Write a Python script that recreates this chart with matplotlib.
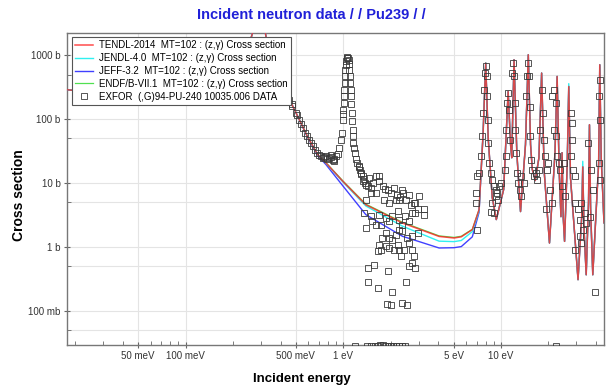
import matplotlib
matplotlib.use('Agg')
import matplotlib.pyplot as plt
from matplotlib.ticker import FixedLocator, LogLocator, FuncFormatter, NullFormatter

plt.rcParams['font.family'] = ['Liberation Sans', 'DejaVu Sans']

# evaluated (z,g) cross sections on a shared energy grid: energy in eV, sigma in barn
energy = [0.0177, 0.025, 0.04, 0.07, 0.1, 0.15, 0.2, 0.24, 0.27, 0.285, 0.296, 0.31, 0.33,
          0.37, 0.434, 0.502, 0.592, 0.688, 0.777, 1.0, 1.39, 2.37, 4.05, 5.04, 5.6, 6.58,
          7.26, 7.7, 8.0, 8.3, 8.8, 9.34, 10.4, 11.1, 11.5, 11.7, 12.1, 12.6, 13.3, 14.3,
          14.9, 15.4, 15.8, 16.5, 17.4, 18.1, 18.8, 20.3, 22.0, 22.7, 23.4, 24.0, 24.4, 24.8,
          25.3, 26.3, 26.9, 27.6, 30.8, 32.5, 33.0, 33.6, 34.7, 35.9, 36.4, 37.0, 38.2, 41.6,
          42.3, 43.2, 45.0]
tendl = [289, 268, 220, 180, 170, 200, 350, 900, 2600, 4500, 5200, 3500, 1500,
         600, 259, 125, 54, 28, 20.7, 10.5, 4.6, 2.39, 1.47, 1.39, 1.45, 1.88,
         3.85, 60, 755, 50, 6, 2.7, 8, 272, 40, 25, 851, 30, 3.6, 40,
         1018, 40, 16.3, 11, 25, 527, 15, 1.16, 30, 467, 15, 3, 30, 3,
         1.23, 20, 325, 12, 0.31, 3, 18, 2, 0.37, 5, 82, 4, 0.37, 20,
         710, 25, 2.4]
jendl = [289, 268, 220, 180, 170, 200, 350, 900, 2600, 4500, 5200, 3500, 1500,
         600, 259, 125, 54, 28, 20.5, 10.3, 4.4, 2.13, 1.24, 1.22, 1.27, 1.75,
         3.7, 60, 760, 50, 6, 2.7, 8, 272, 40, 25, 851, 30, 3.6, 40,
         1018, 40, 16.3, 11, 25, 527, 15, 1.16, 30, 467, 15, 3, 30, 3,
         1.23, 20, 360, 12, 0.31, 3, 22, 2, 0.37, 5, 82, 4, 0.37, 20,
         710, 25, 2.4]
jeff = [289, 268, 220, 180, 170, 200, 350, 900, 2600, 4500, 5200, 3500, 1500,
        600, 259, 125, 53, 27, 19.5, 8.9, 3.22, 1.48, 0.97, 0.98, 1.02, 1.45,
        3.5, 60, 755, 50, 6, 2.7, 8, 272, 40, 25, 851, 30, 3.6, 40,
        1018, 40, 16.3, 11, 25, 527, 15, 1.16, 30, 467, 15, 3, 30, 3,
        1.23, 20, 325, 12, 0.31, 3, 18, 2, 0.37, 5, 82, 4, 0.37, 20,
        710, 25, 2.4]
endf = [289, 268, 220, 180, 170, 200, 350, 900, 2600, 4500, 5200, 3500, 1500,
        600, 259, 125, 54, 28, 20.9, 10.7, 4.7, 2.45, 1.5, 1.42, 1.48, 1.9,
        3.85, 60, 755, 50, 6, 2.7, 8, 272, 40, 25, 851, 30, 3.6, 40,
        1018, 40, 16.3, 11, 25, 527, 15, 1.16, 30, 467, 15, 3, 30, 3,
        1.23, 20, 325, 12, 0.31, 3, 18, 2, 0.37, 5, 82, 4, 0.37, 20,
        710, 25, 2.4]

# EXFOR points, split by region
e_tail = [0.434, 0.455, 0.47, 0.476, 0.502, 0.51, 0.527, 0.54, 0.558, 0.575, 0.592, 0.61,
          0.627, 0.645, 0.665, 0.685, 0.705, 0.72, 0.74, 0.76, 0.777, 0.79, 0.815, 0.83,
          0.836, 0.856, 0.87, 0.877, 0.899, 0.92]
s_tail = [259, 202, 170, 163, 125, 115, 98, 85, 73.6, 62, 53.9, 48,
          43, 38, 33.4, 30, 27.9, 26.5, 24.8, 25.5, 26.2, 23.8, 24.8, 25.5,
          27.9, 23.3, 24, 21.9, 26.2, 28.5]

e_peak = [0.944, 0.967, 0.981, 0.99, 0.995, 1.0, 1.005, 1.01, 1.015, 1.019, 1.025, 1.03,
          1.035, 1.04, 1.05, 1.06, 1.07, 1.08, 1.085, 1.09, 1.1, 1.107, 1.113, 1.119,
          1.127, 1.135, 1.14, 1.145, 1.152, 1.16, 1.17, 1.19, 1.21, 1.23, 1.25, 1.276,
          1.3, 1.325, 1.35, 1.377, 1.425]
s_peak = [35.5, 47.8, 60.9, 98.2, 120, 141, 180, 227, 290, 368, 480, 593,
          700, 800, 950, 904, 900, 851, 720, 593, 470, 368, 290, 227,
          170, 125, 95, 68.5, 55, 42.5, 36, 29.6, 24, 20.7, 18.5, 16.3,
          14, 12.8, 11.5, 10.1, 8.9]

e_cloud = [1.25, 1.3, 1.33, 1.4, 1.46, 1.5, 1.55, 1.61, 1.69, 1.78, 1.85, 2.0, 2.1, 2.2,
           2.3, 2.5, 2.6, 2.7, 1.69, 1.91, 2.37, 2.39, 3.03, 2.81, 2.87, 2.96, 2.16, 2.26,
           1.95, 1.82, 1.61, 1.49, 1.39, 1.36, 1.49, 1.39, 1.52, 1.61, 1.69, 1.73, 1.86,
           1.95, 2.05, 2.21, 2.26, 2.37, 2.46, 2.62, 2.74, 2.87, 2.96, 2.74, 2.55, 2.37,
           2.26, 2.16, 2.05, 1.95, 1.86, 1.77, 1.69, 1.65, 1.73, 1.86, 1.95, 2.10, 2.21,
           2.26, 2.31, 2.43, 2.62, 2.74, 2.81, 2.74, 2.87, 2.62, 1.57, 1.43, 1.91, 1.43,
           1.65, 2.49, 2.05, 2.37, 2.55, 1.90, 2.0, 3.26, 3.26]
s_cloud = [18, 14.5, 11, 9.5, 11.9, 8.5, 10, 12.8, 10.7, 9, 8, 7, 8.5, 6.5,
           6, 5.5, 6.5, 4.5, 12.8, 7.9, 7.9, 7.0, 6.2, 4.9, 4.9, 3.95, 5.5, 5.5,
           4.9, 5.5, 7.0, 7.0, 5.5, 3.42, 3.03, 2.0, 2.53, 2.25, 3.22, 2.25, 2.86,
           2.53, 3.03, 3.63, 2.69, 2.25, 3.03, 2.53, 3.42, 3.42, 1.67, 1.48, 1.39, 1.77,
           1.88, 1.57, 1.31, 1.39, 1.67, 1.39, 1.09, 0.86, 0.91, 1.03, 0.97, 0.91, 1.09,
           0.91, 0.72, 0.91, 1.16, 0.91, 0.72, 0.57, 0.47, 0.50, 0.53, 0.47, 0.42, 0.29,
           0.23, 0.29, 0.20, 0.134, 0.126, 0.131, 0.125, 3.9, 3.2]

e_floor = [1.19, 1.42, 1.5, 1.58, 1.65, 1.72, 1.78, 1.85, 1.92, 2.0, 2.08, 2.15, 2.25,
           2.35, 2.45, 22.3]
s_floor = [0.028, 0.028, 0.028, 0.028, 0.028, 0.029, 0.030, 0.028, 0.028, 0.028, 0.028,
           0.028, 0.028, 0.028, 0.028, 0.028]

e_res = [7.08, 6.9, 6.9, 7.08, 7.26, 7.47, 7.62, 7.73, 7.84, 7.95, 8.0, 8.1, 8.18, 8.25,
         8.33, 8.45, 8.6, 8.83, 9.05, 9.27, 9.5, 9.75, 9.99, 9.27, 9.6, 9.05, 8.6, 8.83,
         10.6, 10.7, 10.8, 10.96, 11.1, 11.25, 11.4, 11.8, 11.97, 12.1, 12.2, 12.3, 12.4,
         12.6, 12.9, 13.2, 13.4, 13.98, 13.4, 14.46, 14.6, 14.9, 15.0, 15.2, 15.3, 15.55,
         15.8, 16.1, 16.6, 17.0, 17.3, 17.8, 18.1, 18.4, 18.7, 19.0, 19.6, 19.9, 19.2,
         20.6, 21.1, 21.1, 21.6, 22.2, 21.6, 22.2, 22.7, 23.2, 23.8, 24.4, 25.6, 25.0,
         27.6, 28.0, 28.3, 27.6, 28.5, 29.6, 29.6, 30.7, 32.3, 33.9, 31.5, 33.1, 34.8,
         36.5, 37.4, 35.6, 38.4, 29.6, 32.3, 31.5, 39.4, 42.7, 41.8, 42.7, 41.8, 42.7]
s_res = [1.88, 7.0, 4.9, 12.8, 14.5, 26.2, 53.9, 125, 290, 527, 668, 467, 227, 98,
         42.5, 20.7, 14.5, 11.3, 8.9, 7.9, 7.0, 8.9, 10.1, 6.2, 5.5, 3.4, 3.6, 4.9,
         16.3, 26.2, 68.5, 179, 257, 141, 47.8, 527, 755, 467, 179, 68.5, 29.6,
         14.5, 10.1, 7.9, 6.2, 10.1, 12.8, 227, 467, 755, 467, 158, 53.9, 23.3,
         16.3, 12.8, 14.5, 11.3, 16.3, 68.5, 290, 125, 47.8, 26.2, 16.3, 20.7, 3.9,
         7.9, 4.9, 227, 290, 179, 68.5, 53.9, 26.2, 20.7, 16.3, 8.9, 6.2, 20.7,
         125, 87, 47.8, 26.2, 16.3, 12.8, 4.9, 3.9, 4.9, 3.4, 2.7, 1.88, 2.4,
         3.0, 16.3, 42.5, 7.9, 0.91, 1.16, 1.48, 0.20, 414, 227, 98, 20.7, 11.3]

e_exfor = e_tail + e_peak + e_cloud + e_floor + e_res
s_exfor = s_tail + s_peak + s_cloud + s_floor + s_res

labels = ['TENDL-2014  MT=102 : (z,\u03b3) Cross section',
          'JENDL-4.0  MT=102 : (z,\u03b3) Cross section',
          'JEFF-3.2  MT=102 : (z,\u03b3) Cross section',
          'ENDF/B-VII.1  MT=102 : (z,\u03b3) Cross section',
          'EXFOR  (,G)94-PU-240 10035.006 DATA']

fig = plt.figure(figsize=(6.07, 3.90), dpi=100)
ax = fig.add_axes([67 / 607, 45 / 390, 537 / 607, 312 / 390])

ax.plot(energy, tendl, color='#ff2020', lw=1.1, alpha=0.8, zorder=5, label=labels[0])
ax.plot(energy, jendl, color='#30f0f0', lw=1.0, zorder=4, label=labels[1])
ax.plot(energy, jeff, color='#4040ff', lw=1.0, zorder=3, label=labels[2])
ax.plot(energy, endf, color='#50e050', lw=0.9, zorder=2, label=labels[3])
ax.plot(e_exfor, s_exfor, ls='none', marker='s', ms=3.8, mfc='none', mec='#3a3a3a',
        mew=0.6, zorder=6, label=labels[4])

ax.set_xscale('log')
ax.set_yscale('log')
ax.set_xlim(0.0177, 45)
ax.set_ylim(0.0295, 2230)

xmaj = [0.05, 0.1, 0.5, 1, 5, 10]
xlab = {0.05: '50 meV', 0.1: '100 meV', 0.5: '500 meV', 1: '1 eV', 5: '5 eV', 10: '10 eV'}
ax.xaxis.set_major_locator(FixedLocator(xmaj))
ax.xaxis.set_major_formatter(FuncFormatter(lambda v, p: xlab.get(round(v, 3), '')))
ax.xaxis.set_minor_locator(LogLocator(base=10, subs=(2, 3, 4, 6, 7, 8, 9), numticks=20))
ax.xaxis.set_minor_formatter(NullFormatter())

ylab = {1000: '1000 b', 100: '100 b', 10: '10 b', 1: '1 b', 0.1: '100 mb'}
ax.yaxis.set_major_locator(FixedLocator([0.1, 1, 10, 100, 1000]))
ax.yaxis.set_major_formatter(FuncFormatter(lambda v, p: ylab.get(round(v, 3), '')))
ax.yaxis.set_minor_locator(FixedLocator([0.05, 0.5, 5, 50, 500]))
ax.yaxis.set_minor_formatter(NullFormatter())

ax.grid(True, which='major', color='#e4e4e4', lw=0.8)
ax.grid(True, which='minor', axis='y', color='#e4e4e4', lw=0.8)
ax.set_axisbelow(True)

ax.tick_params(which='major', direction='inout', length=5, width=0.8, color='#666666',
               labelsize=7, labelcolor='#333333', pad=2)
ax.tick_params(which='minor', direction='in', length=3, width=0.6, color='#666666')
for s in ax.spines.values():
    s.set_color('#777777')
    s.set_linewidth(1)

leg = ax.legend(loc='upper left', bbox_to_anchor=(0.009, 0.988), fontsize=7,
                frameon=True, fancybox=False, framealpha=1, edgecolor='#555555',
                handlelength=1.8, handletextpad=0.6, labelspacing=0.3,
                borderpad=0.35, borderaxespad=0)
leg.get_frame().set_linewidth(0.8)
leg.set_zorder(10)

fig.text(0.513, 0.962, 'Incident neutron data / / Pu239 / /', color='#2020d8',
         fontsize=10.5, fontweight='bold', ha='center', va='center')
fig.text(0.497, 0.028, 'Incident energy', fontsize=9.5, fontweight='bold',
         ha='center', va='center')
fig.text(0.031, 0.5, 'Cross section', fontsize=10, fontweight='bold', rotation=90,
         ha='center', va='center')

fig.savefig('out.png', dpi=100)
